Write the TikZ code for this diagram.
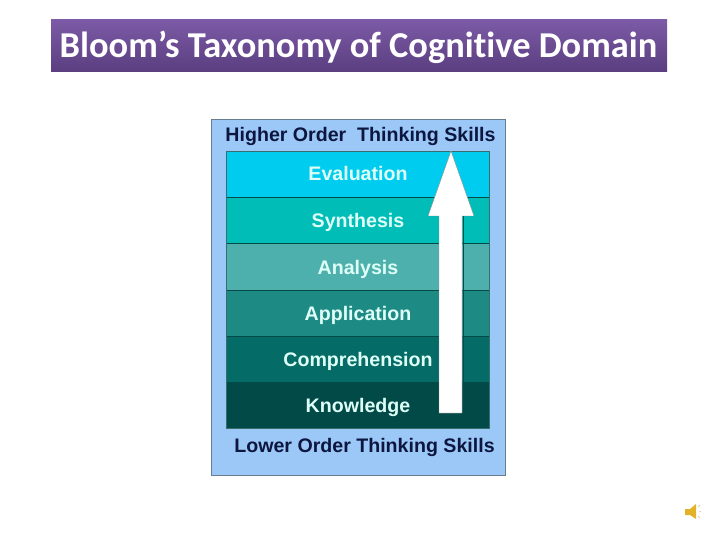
\documentclass[tikz,border=0pt]{standalone}
\usepackage{fontspec}
\setmainfont{Liberation Sans}
\newfontfamily\titlefont[Ligatures=NoCommon]{Carlito}
\usepackage{tikz}
\usetikzlibrary{positioning}
\definecolor{bannertop}{RGB}{124,90,166}
\definecolor{bannerbot}{RGB}{90,62,128}
\definecolor{panelblue}{RGB}{156,200,248}
\definecolor{panelline}{RGB}{105,125,145}
\definecolor{darkink}{RGB}{12,22,62}
\definecolor{paleink}{RGB}{222,255,248}
\definecolor{bandA}{RGB}{0,204,240}
\definecolor{bandB}{RGB}{0,189,184}
\definecolor{bandC}{RGB}{78,176,172}
\definecolor{bandD}{RGB}{30,138,132}
\definecolor{bandE}{RGB}{5,107,102}
\definecolor{bandF}{RGB}{2,74,72}
\definecolor{speaker}{RGB}{226,178,40}
\tikzset{
    bandlabel/.style={text=paleink, anchor=base, font=\fontsize{19.6}{22}\selectfont\bfseries, inner sep=0pt},
    sidelabel/.style={text=darkink, anchor=base, font=\fontsize{19.6}{22}\selectfont\bfseries, inner sep=0pt},
}

\begin{document}
\begin{tikzpicture}[x=1pt, y=-1pt]
    \useasboundingbox (0,0) rectangle (720,540);

    % Title banner
    \shade[top color=bannertop, bottom color=bannerbot] (51,20) rectangle (667,72);
    \node[text=white, inner sep=0pt, anchor=base] (title) at (358.5,58) {\titlefont\fontsize{36.4}{38}\selectfont\bfseries Bloom’s Taxonomy of Cognitive Domain};

    % Blue panel behind the table
    \fill[panelblue] (211,119) rectangle (505,475);
    \draw[panelline, line width=0.8pt] (211,119) rectangle (505,475);

    % Coloured bands, top to bottom
    \foreach \ytop/\ybot/\col/\name/\word in {
        151/197/bandA/evaluation/Evaluation,
        197/243/bandB/synthesis/Synthesis,
        243/290/bandC/analysis/Analysis,
        290/336/bandD/application/Application,
        336/382/bandE/comprehension/Comprehension,
        382/428/bandF/knowledge/Knowledge} {
        \fill[\col] (226,\ytop) rectangle (489,\ybot);
        \draw[bandF, line width=0.6pt] (226,\ytop) -- (489,\ytop);
        \node[bandlabel] (\name) at (358,\ybot-16) {\word};
    }
    \draw[bandF!80, line width=0.8pt] (226,151) rectangle (489,428);

    % Side labels
    \node[sidelabel] (higher) at (360.5,142) {Higher Order\ \ Thinking Skills};
    \node[sidelabel] (lower) at (364.5,452) {Lower Order Thinking Skills};

    % White arrow with its dark edge
    \draw[bandF, line width=1pt] (463,216) -- (463,414) -- (440,414);
    \fill[white, draw=black!45, line width=0.4pt] (451,151) -- (474,216) -- (462,216) -- (462,413)
        -- (439,413) -- (439,216) -- (428,216) -- cycle;

    % Speaker icon
    \fill[speaker] (685,509) -- (690,509) -- (696,504) -- (696,519) -- (690,515) -- (685,515) -- cycle;
    \draw[black!25, line width=0.5pt] (698,507) -- (700,505) (699,511.5) -- (701,511.5) (698,516) -- (700,518);
\end{tikzpicture}
\end{document}
